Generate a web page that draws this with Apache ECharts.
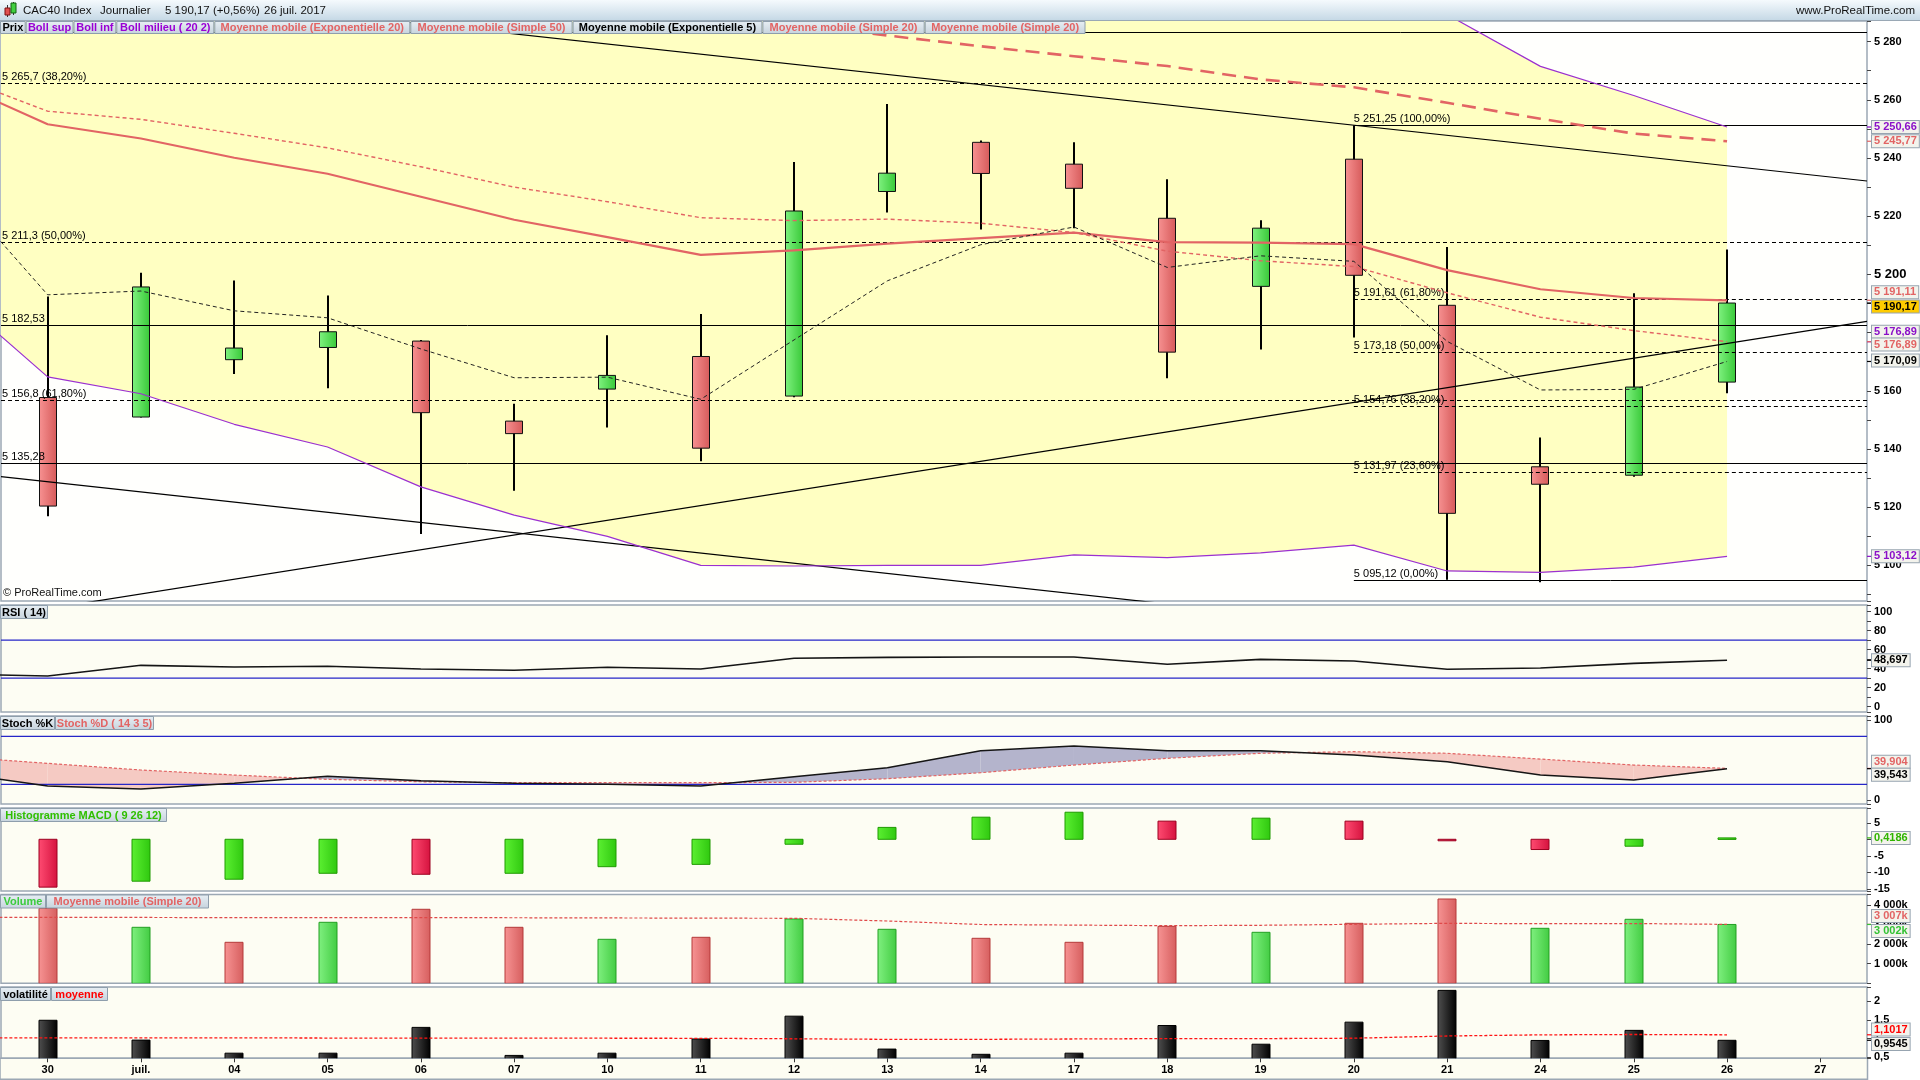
<!DOCTYPE html>
<html><head><meta charset="utf-8"><title>CAC40 Index</title>
<script src="https://cdn.jsdelivr.net/npm/echarts@6.0.0/dist/echarts.min.js"></script>
<style>html,body{margin:0;padding:0;background:#fff;overflow:hidden}#c{width:1920px;height:1080px}</style>
</head><body><div id="c"></div>
<script>
// ================= DATA =================
const dates = ['30','juil.','04','05','06','07','10','11','12','13','14','17','18','19','20','21','24','25','26','27'];
// daily candles, 30 juin .. 26 juil.
const open  = [5157.7,5151.0,5170.7,5174.9,5177.1,5149.6,5160.6,5171.8,5158.2,5228.5,5245.4,5237.9,5219.3,5195.9,5239.6,5189.4,5133.9,5131.0,5163.0];
const close = [5120.4,5195.7,5174.7,5180.3,5152.5,5145.3,5165.3,5140.3,5221.8,5234.8,5234.7,5229.6,5173.3,5215.9,5199.7,5117.9,5127.9,5161.3,5190.17];
const low   = [5116.9,5150.8,5165.8,5160.9,5110.8,5125.7,5147.4,5135.8,5157.8,5221.3,5215.4,5215.9,5164.3,5174.2,5178.3,5095.12,5094.2,5130.5,5159.2];
const high  = [5192.4,5200.6,5197.9,5192.8,5177.5,5155.6,5179.1,5186.4,5238.6,5258.6,5246.0,5245.4,5232.7,5218.6,5251.25,5209.4,5144.0,5193.5,5208.6];
// indicator lines, 29 juin .. 26 juil. (first point lies just left of the visible area)
const bollUp  = [5343.8,5347.4,5347.6,5348.5,5344.3,5344.0,5341.7,5340.0,5339.0,5337.2,5338.0,5335.2,5325.2,5313.3,5305.1,5298.4,5289.3,5271.5,5261.5,5250.66];
const bollLow = [5192.8,5164.8,5159.0,5148.5,5140.7,5127.0,5117.3,5110.0,5100.0,5099.8,5100.0,5100.0,5103.6,5102.7,5104.3,5107.0,5098.1,5097.6,5099.4,5103.12];
const sma20   = [5268.3,5256.1,5253.3,5248.5,5243.5,5237.0,5230.0,5225.0,5219.5,5218.5,5219.0,5217.6,5214.4,5208.0,5204.7,5202.7,5193.7,5185.3,5180.7,5176.89];
const ema20   = [5266.0,5251.6,5246.7,5240.1,5234.6,5226.7,5218.8,5212.8,5206.7,5208.3,5210.6,5212.5,5214.4,5211.1,5210.9,5210.4,5201.5,5194.9,5191.9,5191.11];
const sma50   = [5318,5315,5312,5309,5306,5302,5298,5294,5290,5286,5282.1,5278.4,5275.0,5271.6,5267.0,5264.3,5259.0,5253.5,5248.4,5245.77];
const ema5    = [5229.4,5193.0,5194.3,5187.5,5185.1,5174.4,5164.5,5164.7,5157.1,5177.5,5197.8,5210.2,5216.3,5202.4,5206.4,5204.5,5177.0,5160.3,5160.5,5170.09];
const rsi     = [34.2,32.2,43.4,41.6,42.4,39.5,38.2,41.3,39.5,50.8,51.8,52.2,52.2,44.5,49.7,48.0,39.2,40.6,45.5,48.697];
const stochK  = [34.5,17.9,14.1,21.2,30.0,24.5,21.2,20.0,17.9,29.5,40.8,62.0,67.9,62.0,62.0,56.6,48.3,31.6,25.4,39.543];
const stochD  = [54.6,46.2,37.9,31.6,26.2,23.2,22.0,22.0,22.0,22.5,27.0,34.5,44.1,52.5,58.8,60.8,58.8,51.6,44.1,39.904];
const volMA   = [3367,3367,3360,3350,3350,3355,3345,3335,3325,3316,3179,3000,2970,2939,2960,3010,3060,3040,3050,3007];
const volatMean = [1.02,1.02,1.02,1.02,1.015,1.015,1.01,1.01,1.008,0.995,0.98,0.98,0.99,1.0,1.0,1.01,1.07,1.10,1.11,1.1017];
// histograms, 30 juin .. 26 juil.
const macdHist = [-14.5,-12.7,-12.1,-10.3,-10.6,-10.3,-8.3,-7.6,-1.5,3.6,6.7,8.2,5.5,6.4,5.5,-0.15,-3.1,-2.1,0.4186];
const macdUp   = [0,1,1,1,0,1,1,1,1,1,1,1,0,1,0,0,0,1,1];
const volume   = [3827,2857,2092,3112,3776,2857,2245,2347,3281,2755,2296,2092,2908,2602,3061,4301,2806,3265,3002]; // thousands
const volUp    = [0,1,0,1,0,0,1,0,1,1,0,0,0,1,0,0,1,1,1];
const volat    = [1.49,0.96,0.61,0.61,1.30,0.55,0.61,0.99,1.60,0.72,0.58,0.61,1.35,0.85,1.44,2.29,0.95,1.22,0.9545];
// horizontal levels (Fibonacci + supports)
const hLevels = [5283.3,5265.7,5251.25,5211.3,5191.61,5182.53,5173.18,5156.8,5154.76,5135.28,5131.97,5095.12];
const hStart  = [-0.5,-0.5,14,-0.5,14,-0.5,14,-0.5,14,-0.5,14,14];
const hLabels = ['','5 265,7 (38,20%)','5 251,25 (100,00%)','5 211,3 (50,00%)','5 191,61 (61,80%)','5 182,53','5 173,18 (50,00%)','5 156,8 (61,80%)','5 154,76 (38,20%)','5 135,28','5 131,97 (23,60%)','5 095,12 (0,00%)'];
const hDashed = [0,1,0,1,1,0,1,1,1,0,1,0];
// trendlines, endpoints as [category index, price]
const trendA = [[0,5300.1],[19.5,5232.1]];
const trendB = [[-0.5,5130.5],[19.5,5060.5]];
const trendC = [[-0.5,5082.6],[19.5,5183.9]];
const rsiLevels = [70,30];
const stochLevels = [80,20];
// last-value tags on the right scale
const mainTags  = [5250.66,5245.77,5191.11,5190.17,5176.89,5176.89,5170.09,5103.12];
const rsiTags   = [48.697];
const stochTags = [39.904,39.543];
const macdTags  = [0.4186];
const volTags   = [3007,3002];
const volatTags = [1.1017,0.9545];

// ================= RENDERING =================
const FONT = '"Liberation Sans", Arial, sans-serif';
const RED = '#e26464', PURPLE = '#9b30d0', PURPLE_T = '#8a10c8';
const fr = (v, d) => { let s = Math.abs(v).toFixed(d); let [a, b] = s.split('.'); a = a.replace(/\B(?=(\d{3})+(?!\d))/g, ' '); return (v < 0 ? '-' : '') + a + (b ? ',' + b : ''); };
const isMul = (v, s) => Math.abs(v / s - Math.round(v / s)) < 1e-6;
const GL = 1, GW = 1866;
const LG = (c1, c2, h) => new echarts.graphic.LinearGradient(0, 0, h ? 1 : 0, h ? 0 : 1, [{offset: 0, color: c1}, {offset: 1, color: c2}]);

const P = [
  {top: 21, h: 580, min: 5087.78, max: 5287.09, iv: 10, bg: '#fffffd',
   fmt: v => (isMul(v, 20) && v >= 5100 && v <= 5280) ? (Math.abs(v - 5200) < 1e-6 ? '{big|' + fr(v, 0) + '}' : fr(v, 0)) : ''},
  {top: 605, h: 107, min: -5.73, max: 106.9, iv: 10, bg: '#fdfdf3', fmt: v => (isMul(v, 20) && v >= 0 && v <= 100) ? fr(v, 0) : ''},
  {top: 716, h: 88, min: -4.6, max: 105.4, iv: 100, bg: '#fdfdf3', fmt: v => (isMul(v, 100) && v >= 0 && v <= 100) ? fr(v, 0) : ''},
  {top: 808, h: 83, min: -15.67, max: 9.48, iv: 5, bg: '#fdfdf3', fmt: v => (isMul(v, 5) && v >= -15 && v <= 5) ? fr(v, 0) : ''},
  {top: 894.5, h: 88.8, min: 0, max: 4531, iv: 1000, bg: '#fdfdf3', fmt: v => (isMul(v, 1000) && v >= 1000 && v <= 4000) ? fr(v, 0) + 'k' : ''},
  {top: 987, h: 71.3, min: 0.473, max: 2.38, iv: 0.5, bg: '#fdfdf3', fmt: v => (isMul(v, 0.5) && v >= 0.5 && v <= 2) ? fr(v, isMul(v, 1) ? 0 : 1) : ''}
];

const grid = P.map(p => ({left: GL, top: p.top, width: GW, height: p.h, show: true, backgroundColor: p.bg,
  borderColor: '#9ca8b4', borderWidth: 1.5, containLabel: false, outerBoundsMode: 'none'}));
const xAxis = P.map((p, i) => ({type: 'value', gridIndex: i, min: -0.5, max: 19.5, show: false,
  axisLine: {show: false, onZero: false}, axisTick: {show: false}, axisLabel: {show: false}, splitLine: {show: false}}));
xAxis.push({type: 'category', gridIndex: 5, data: dates, boundaryGap: true, position: 'bottom', z: 10,
  axisLine: {show: false, onZero: false}, axisTick: {show: true, alignWithLabel: true, length: 4, lineStyle: {color: '#333'}},
  axisLabel: {show: true, interval: 0, margin: 6, color: '#000', fontWeight: 'bold', fontSize: 11, fontFamily: FONT}, splitLine: {show: false}});
const yAxis = P.map((p, i) => ({type: 'value', gridIndex: i, position: 'right', min: p.min, max: p.max,
  minInterval: p.iv, maxInterval: p.iv, splitNumber: 20, splitLine: {show: false}, axisLine: {show: false, onZero: false},
  axisTick: {show: true, length: 4, lineStyle: {color: '#444'}},
  axisLabel: {show: true, margin: 7, color: '#000', fontWeight: 'bold', fontSize: 11, fontFamily: FONT,
    formatter: p.fmt, hideOverlap: false, showMinLabel: true, showMaxLabel: true, rich: {big: {fontSize: 13, fontWeight: 'bold', fontFamily: FONT}}}}));

const series = [];
const line = (g, arr, style, z, off) => series.push({type: 'line', xAxisIndex: g, yAxisIndex: g, z: z || 5,
  data: arr.map((v, k) => [k - (off == null ? 1 : off), v]), symbol: 'none', showSymbol: false, silent: true,
  animation: false, lineStyle: style});
const seg = (g, pts, style, z) => series.push({type: 'line', xAxisIndex: g, yAxisIndex: g, z: z || 4, data: pts,
  symbol: 'none', showSymbol: false, silent: true, animation: false, lineStyle: style});

// Bollinger band fill
series.push({type: 'custom', xAxisIndex: 0, yAxisIndex: 0, clip: true, z: 1, silent: true, animation: false,
  data: [[0, 5200]],
  renderItem: (p, api) => {
    const pts = [];
    for (let k = 0; k < bollUp.length; k++) pts.push(api.coord([k - 1, bollUp[k]]));
    for (let k = bollLow.length - 1; k >= 0; k--) pts.push(api.coord([k - 1, bollLow[k]]));
    return {type: 'polygon', shape: {points: pts}, style: {fill: '#ffffc2'}};
  }});
// candles
series.push({type: 'custom', xAxisIndex: 0, yAxisIndex: 0, clip: true, z: 3, silent: true, animation: false,
  data: open.map((o, k) => [k, o, close[k], low[k], high[k]]),
  renderItem: (p, api) => {
    const x = api.value(0), o = api.value(1), c = api.value(2), l = api.value(3), h = api.value(4);
    const pH = api.coord([x, h]), pL = api.coord([x, l]), pO = api.coord([x, o]), pC = api.coord([x, c]);
    const up = c >= o, w = 17, cx = Math.round(pH[0]);
    const top = Math.min(pO[1], pC[1]), bot = Math.max(pO[1], pC[1]);
    return {type: 'group', children: [
      {type: 'line', shape: {x1: cx, y1: pH[1], x2: cx, y2: pL[1]}, style: {stroke: '#000', lineWidth: 2}},
      {type: 'rect', shape: {x: cx - w / 2, y: top, width: w, height: Math.max(1, bot - top)},
       style: {fill: up ? LG('#80f280', '#38c838', true) : LG('#f79292', '#d65a5a', true), stroke: '#111', lineWidth: 1}}
    ]};
  }});
// horizontal levels
series.push({type: 'custom', xAxisIndex: 0, yAxisIndex: 0, clip: true, z: 4, silent: true, animation: false,
  data: hLevels.map((v, k) => [hStart[k], v]),
  renderItem: (p, api) => {
    const k = p.dataIndex;
    const a = api.coord([api.value(0), api.value(1)]), b = api.coord([19.5, api.value(1)]);
    const y = Math.round(a[1]) + 0.5;
    const ch = [{type: 'line', shape: {x1: a[0], y1: y, x2: b[0], y2: y},
      style: {stroke: '#000', lineWidth: 1, lineDash: hDashed[k] ? [4, 3] : null}}];
    if (hLabels[k]) ch.push({type: 'text', x: a[0] + (api.value(0) < 0 ? 1 : 0), y: y - 1.5,
      style: {text: hLabels[k], fill: '#000', font: '11px ' + FONT, align: 'left', verticalAlign: 'bottom', textAlign: 'left', textVerticalAlign: 'bottom'}});
    return {type: 'group', children: ch};
  }});
seg(0, trendA, {color: '#000', width: 1.2});
seg(0, trendB, {color: '#000', width: 1.2});
seg(0, trendC, {color: '#000', width: 1.2});
line(0, bollUp, {color: PURPLE, width: 1.2});
line(0, bollLow, {color: PURPLE, width: 1.2});
line(0, sma50, {color: RED, width: 2.6, type: [14, 8]});
line(0, sma20, {color: RED, width: 1.4, type: [4, 3]});
line(0, ema20, {color: RED, width: 2.2});
line(0, ema5, {color: '#222', width: 1, type: [4, 3]});

// RSI
rsiLevels.forEach(v => seg(1, [[-0.5, v], [19.5, v]], {color: '#2626c8', width: 1.3}));
line(1, rsi, {color: '#151515', width: 1.6});
// Stochastic fill + lines
series.push({type: 'custom', xAxisIndex: 2, yAxisIndex: 2, clip: true, z: 1, silent: true, animation: false,
  data: stochK.map((v, k) => [k - 1, v, stochD[k]]),
  renderItem: (p, api) => {
    const k = p.dataIndex; if (k >= stochK.length - 1) return;
    const x0 = k - 1, x1 = k, a0 = stochK[k], a1 = stochK[k + 1], b0 = stochD[k], b1 = stochD[k + 1];
    const d0 = a0 - b0, d1 = a1 - b1, C = api.coord;
    const col = d => d >= 0 ? '#b4b4cc' : '#f5cac3';
    if (d0 * d1 >= 0) return {type: 'polygon', shape: {points: [C([x0, a0]), C([x1, a1]), C([x1, b1]), C([x0, b0])]}, style: {fill: col(d0 + d1)}};
    const t = d0 / (d0 - d1), xc = x0 + t, yc = a0 + (a1 - a0) * t;
    return {type: 'group', children: [
      {type: 'polygon', shape: {points: [C([x0, a0]), C([xc, yc]), C([x0, b0])]}, style: {fill: col(d0)}},
      {type: 'polygon', shape: {points: [C([xc, yc]), C([x1, a1]), C([x1, b1])]}, style: {fill: col(d1)}}]};
  }});
stochLevels.forEach(v => seg(2, [[-0.5, v], [19.5, v]], {color: '#2626c8', width: 1.3}));
line(2, stochD, {color: RED, width: 1.2, type: [3, 2]});
line(2, stochK, {color: '#151515', width: 1.5});

// bars helper
const bars = (g, vals, colorFn) => series.push({type: 'custom', xAxisIndex: g, yAxisIndex: g, clip: true, z: 3, silent: true, animation: false,
  data: vals.map((v, k) => [k, v]),
  renderItem: (p, api) => {
    const k = p.dataIndex, x = api.value(0), v = api.value(1);
    const a = api.coord([x, v]), b = api.coord([x, 0]), w = 18;
    const c = colorFn(k);
    const top = Math.min(a[1], b[1]), hgt = Math.max(1.5, Math.abs(b[1] - a[1]));
    return {type: 'rect', shape: {x: Math.round(a[0]) - w / 2, y: top, width: w, height: hgt}, style: {fill: c[0], stroke: c[1], lineWidth: 1}};
  }});
bars(3, macdHist, k => macdUp[k] ? [LG('#5cf032', '#2fc80f', true), '#1f9a00'] : [LG('#ff4c72', '#d5123e', true), '#9c0020']);
bars(4, volume, k => volUp[k] ? [LG('#80f080', '#42cc42', true), '#239f23'] : [LG('#f79494', '#d65e5e', true), '#b53a3a']);
line(4, volMA, {color: '#e04848', width: 1.2, type: [3, 2]});
bars(5, volat, k => [LG('#505050', '#000', true), '#000']);
line(5, volatMean, {color: '#ff1414', width: 1.3, type: [3, 2]});

// value tags on the right scale
const tags = (g, vals, texts, colors, bgs, dys) => series.push({type: 'custom', xAxisIndex: g, yAxisIndex: g, clip: false, z: 30, silent: true, animation: false,
  data: vals.map(v => [19.5, v]),
  renderItem: (p, api) => {
    const k = p.dataIndex, pt = api.coord([19.5, api.value(1)]);
    return {type: 'group', children: [
      {type: 'line', shape: {x1: pt[0], y1: pt[1], x2: pt[0] + 4, y2: pt[1]}, style: {stroke: colors[k], lineWidth: 1.2}},
      {type: 'text', x: pt[0] + 5, y: pt[1] + dys[k], style: {text: texts[k], fill: colors[k], font: 'bold 11px ' + FONT,
        align: 'left', verticalAlign: 'middle', textAlign: 'left', textVerticalAlign: 'middle',
        backgroundColor: bgs[k], borderColor: '#97a4b0', borderWidth: 1, padding: [1, 2, 0, 2]}}]};
  }});
const LB = '#f3f3ec';
tags(0, mainTags, mainTags.map(v => fr(v, 2)),
  [PURPLE_T, RED, RED, '#000', PURPLE_T, RED, '#000', PURPLE_T],
  [LB, LB, LB, '#ffcc00', LB, LB, LB, LB], [0, 0, -8, 3.5, -10, 2.8, -1, 0]);
tags(1, rsiTags, rsiTags.map(v => fr(v, 3)), ['#000'], [LB], [0]);
tags(2, stochTags, stochTags.map(v => fr(v, 3)), [RED, '#000'], [LB, LB], [-6.7, 6]);
tags(3, macdTags, macdTags.map(v => fr(v, 4)), ['#2fb400'], [LB], [0]);
tags(4, volTags, volTags.map(v => fr(v, 0) + 'k'), [RED, '#33c233'], [LB, LB], [-8.4, 6.5]);
tags(5, volatTags, volatTags.map(v => fr(v, 4)), ['#ff0000', '#000'], [LB, LB], [-5.3, 3.7]);

// ---------- header, legend boxes, panel titles ----------
const graphic = [];
graphic.push({type: 'rect', z: 0, shape: {x: 0, y: 1058.3, width: 1867.5, height: 21}, style: {fill: '#fdfdf2', stroke: '#9ca8b4', lineWidth: 1.5}});
graphic.push({type: 'rect', z: 100, shape: {x: 0, y: 0, width: 1920, height: 20}, style: {fill: LG('#f5fafd', '#c6d9e6'), stroke: null}});
graphic.push({type: 'line', z: 100, shape: {x1: 0, y1: 20.5, x2: 1920, y2: 20.5}, style: {stroke: '#9aa8b5', lineWidth: 1}});
// small candle icon
graphic.push({type: 'line', z: 101, shape: {x1: 7.5, y1: 5, x2: 7.5, y2: 17}, style: {stroke: '#333', lineWidth: 1}});
graphic.push({type: 'rect', z: 101, shape: {x: 5, y: 8, width: 5, height: 7}, style: {fill: '#e05050', stroke: '#7a1010', lineWidth: 1}});
graphic.push({type: 'line', z: 101, shape: {x1: 13.5, y1: 2, x2: 13.5, y2: 15}, style: {stroke: '#333', lineWidth: 1}});
graphic.push({type: 'rect', z: 101, shape: {x: 11, y: 3, width: 5, height: 10}, style: {fill: '#40d040', stroke: '#106010', lineWidth: 1}});
const htxt = (x, t, align) => graphic.push({type: 'text', z: 101, x: x, y: 10.5, style: {text: t, fill: '#111', font: '11.5px ' + FONT,
  align: align || 'left', verticalAlign: 'middle', textAlign: align || 'left', textVerticalAlign: 'middle'}});
htxt(23, 'CAC40 Index'); htxt(100, 'Journalier'); htxt(165, '5 190,17 (+0,56%)'); htxt(264, '26 juil. 2017');
htxt(1915, 'www.ProRealTime.com', 'right');
const box = (x0, x1, y0, y1, t, c) => {
  graphic.push({type: 'rect', z: 100, shape: {x: x0 + 0.5, y: y0 + 0.5, width: x1 - x0 - 1, height: y1 - y0 - 1},
    style: {fill: LG('#e8eff4', '#c6d3dd'), stroke: '#8e9eac', lineWidth: 1}});
  graphic.push({type: 'text', z: 101, x: (x0 + x1) / 2, y: (y0 + y1) / 2 + 0.5, style: {text: t, fill: c, font: 'bold 11px ' + FONT,
    align: 'center', verticalAlign: 'middle', textAlign: 'center', textVerticalAlign: 'middle'}});
};
const LY0 = 21, LY1 = 34;
box(0, 25.7, LY0, LY1, 'Prix', '#000');
box(25.7, 73.5, LY0, LY1, 'Boll sup', '#9a00d4');
box(73.5, 116.3, LY0, LY1, 'Boll inf', '#9a00d4');
box(116.3, 214.3, LY0, LY1, 'Boll milieu ( 20 2)', '#9a00d4');
box(214.3, 410.3, LY0, LY1, 'Moyenne mobile (Exponentielle 20)', RED);
box(410.3, 572.6, LY0, LY1, 'Moyenne mobile (Simple 50)', RED);
box(572.6, 762.4, LY0, LY1, 'Moyenne mobile (Exponentielle 5)', '#000');
box(762.4, 924.7, LY0, LY1, 'Moyenne mobile (Simple 20)', RED);
box(924.7, 1085.5, LY0, LY1, 'Moyenne mobile (Simple 20)', RED);
box(0, 48, 605, 619, 'RSI ( 14)', '#000');
box(0, 55, 716, 730, 'Stoch %K', '#000');
box(55, 154, 716, 730, 'Stoch %D ( 14 3 5)', RED);
box(0, 167, 808, 822, 'Histogramme MACD ( 9 26 12)', '#2fbf00');
box(0, 46, 894.5, 908.5, 'Volume', '#3ccc3c');
box(46, 209, 894.5, 908.5, 'Moyenne mobile (Simple 20)', RED);
box(0, 51, 987, 1001, 'volatilité', '#000');
box(51, 108, 987, 1001, 'moyenne', '#ff0000');
graphic.push({type: 'text', z: 101, x: 3, y: 598, style: {text: '© ProRealTime.com', fill: '#111', font: '11px ' + FONT,
  align: 'left', verticalAlign: 'bottom', textAlign: 'left', textVerticalAlign: 'bottom'}});

const chart = echarts.init(document.getElementById('c'), null, {renderer: 'canvas', width: 1920, height: 1080});
chart.setOption({backgroundColor: '#ffffff', animation: false, grid, xAxis, yAxis, series, graphic});
</script></body></html>
